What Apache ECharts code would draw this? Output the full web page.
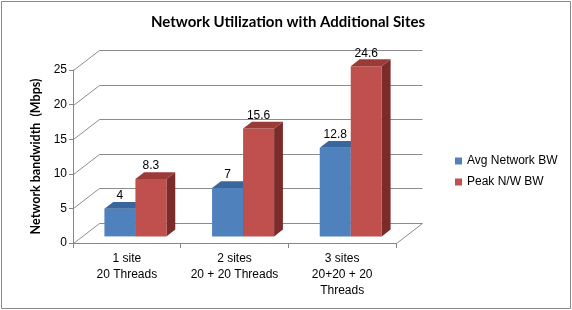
<!DOCTYPE html>
<html><head><meta charset="utf-8">
<script src="https://cdn.jsdelivr.net/npm/echarts@6/dist/echarts.min.js"></script>
<style>html,body{margin:0;padding:0;background:#fff}#c{width:572px;height:310px}</style>
</head><body><div id="c"></div>
<script>
const categories = ['1 site\n20 Threads', '2 sites\n20 + 20 Threads', '3 sites\n20+20 + 20\nThreads'];
const avgBW = [4, 7, 12.8];
const peakBW = [8.3, 15.6, 24.6];
const yTicks = [0, 5, 10, 15, 20, 25];
const seriesNames = ['Avg Network BW', 'Peak N/W BW'];

const DX = 26, DY = -20;      // depth of the 3D box
const F1 = 0.33, F2 = 0.67;   // bar depth span
const BAR_RATIO = 0.288;
const FONT = '"Liberation Sans", Arial, sans-serif';

function crisp(v) { return Math.round(v) + 0.5; }

function wallRender(params, api) {
  const cs = params.coordSys;
  const v = api.value(1);
  const y = crisp(api.coord([0, v])[1]);
  const x0 = crisp(cs.x), x1 = crisp(cs.x + cs.width);
  const st = { stroke: '#8C8C8C', lineWidth: 1, fill: null };
  const ch = [
    { type: 'polyline', shape: { points: [[x0, y], [x0 + DX, y + DY], [x1 + DX, y + DY]] }, style: st }
  ];
  if (v === 0) {
    ch.push({ type: 'line', shape: { x1: x1, y1: y, x2: x1 + DX, y2: y + DY }, style: st });
  }
  return { type: 'group', children: ch };
}

function barRender(side, front, top, sideCol) {
  return function (params, api) {
    const cat = api.value(0), val = api.value(1);
    const pt = api.coord([cat, val]);
    const base = api.coord([cat, 0]);
    const band = api.size([1, 0])[0];
    const bw = band * BAR_RATIO;
    const ox = DX * F1, oy = DY * F1;
    const dx = DX * (F2 - F1), dy = DY * (F2 - F1);
    const x0 = base[0] + ox + (side < 0 ? -bw : 0);
    const x1 = x0 + bw;
    const yb = base[1] + oy, yt = pt[1] + oy;
    return {
      type: 'group',
      children: [
        { type: 'polygon', shape: { points: [[x1, yt], [x1 + dx, yt + dy], [x1 + dx, yb + dy], [x1, yb]] }, style: { fill: sideCol } },
        { type: 'rect', shape: { x: x0, y: yt, width: bw, height: yb - yt }, style: { fill: front } },
        { type: 'polygon', shape: { points: [[x0, yt], [x1, yt], [x1 + dx, yt + dy], [x0 + dx, yt + dy]] }, style: { fill: top } },
        { type: 'text', z2: 100, style: { x: x0 + bw / 2, y: yt + dy, text: String(val), align: 'center', verticalAlign: 'bottom', fill: '#000', font: '12px ' + FONT } }
      ]
    };
  };
}

const chart = echarts.init(document.getElementById('c'), null, { renderer: 'canvas' });
chart.setOption({
  animation: false,
  color: ['#4F81BD', '#C0504D'],
  title: {
    text: 'Network Utilization with Additional Sites',
    left: 283, top: 10, textAlign: 'center',
    textStyle: { fontFamily: 'Lato, "Liberation Sans", sans-serif', fontWeight: 'bold', fontSize: 15, color: '#000' }
  },
  legend: {
    data: seriesNames, orient: 'vertical', left: 450, top: 150,
    icon: 'rect', itemWidth: 7, itemHeight: 7, itemGap: 9,
    textStyle: { fontFamily: FONT, fontSize: 12, color: '#000' }
  },
  grid: { left: 73, right: 176, top: 70, bottom: 67 },
  xAxis: {
    type: 'category', data: categories,
    axisLine: { lineStyle: { color: '#868686' } },
    axisTick: { show: true, length: 5, lineStyle: { color: '#868686' } },
    axisLabel: { fontFamily: FONT, fontSize: 12, color: '#000', lineHeight: 16, margin: 8, interval: 0 },
    splitLine: { show: false }
  },
  yAxis: {
    type: 'value', min: 0, max: 25, interval: 5,
    name: 'Network bandwidth  (Mbps)', nameLocation: 'middle', nameRotate: 90, nameGap: 29,
    nameTextStyle: { fontFamily: 'Lato, "Liberation Sans", sans-serif', fontWeight: 'bold', fontSize: 12.5, color: '#000' },
    axisLine: { show: true, lineStyle: { color: '#868686' } },
    axisTick: { show: true, length: 4, lineStyle: { color: '#868686' } },
    axisLabel: { fontFamily: FONT, fontSize: 12, color: '#000', margin: 6 },
    splitLine: { show: false }
  },
  graphic: [
    { type: 'rect', shape: { x: 1.5, y: 1.5, width: 569, height: 307 }, style: { fill: null, stroke: '#8A8A8A', lineWidth: 1 }, silent: true }
  ],
  series: [
    { type: 'custom', name: '__walls', renderItem: wallRender, data: yTicks.map(v => [0, v]), encode: { x: 0, y: 1 }, z: 1, silent: true },
    { type: 'custom', name: seriesNames[0], renderItem: barRender(-1, '#4F81BD', '#3A669E', '#2F5585'), data: avgBW.map((v, i) => [i, v]), encode: { x: 0, y: 1 }, itemStyle: { color: '#4F81BD' }, z: 2 },
    { type: 'custom', name: seriesNames[1], renderItem: barRender(1, '#C0504D', '#9A3B38', '#7B2C2A'), data: peakBW.map((v, i) => [i, v]), encode: { x: 0, y: 1 }, itemStyle: { color: '#C0504D' }, z: 2 }
  ]
});
</script></body></html>
